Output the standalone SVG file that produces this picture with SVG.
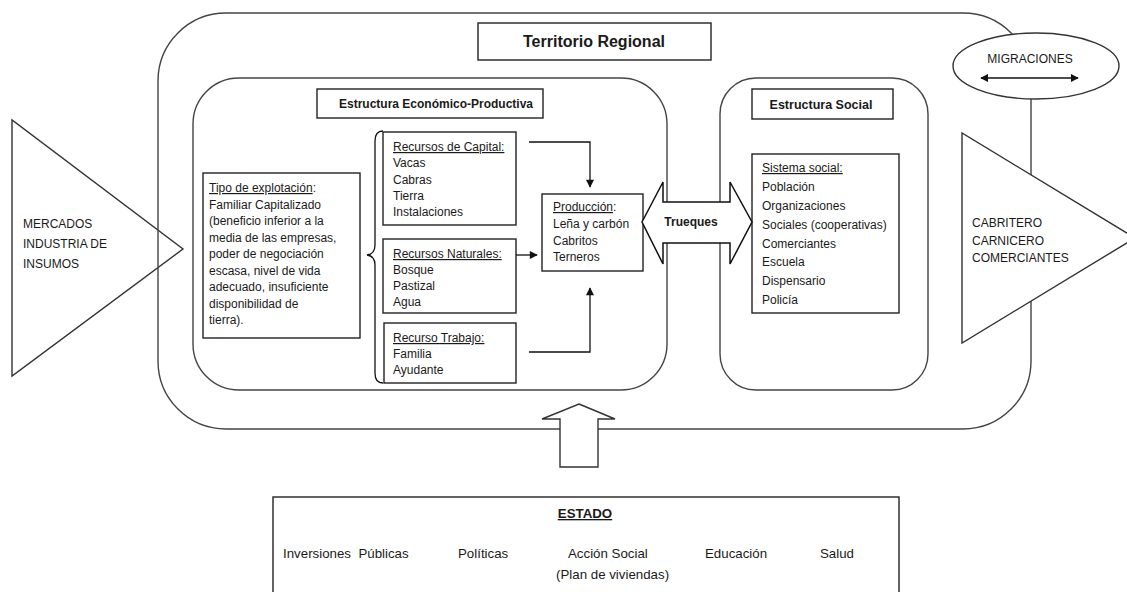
<svg xmlns="http://www.w3.org/2000/svg" width="1127" height="592" viewBox="0 0 1127 592">
<defs>
<style>
.t{font-family:"Liberation Sans",Arial,sans-serif;font-size:12px;fill:#1a1a1a}
.b{font-weight:bold}
.u{text-decoration:underline}
.e{font-size:13.3px}
.box{fill:#fff;stroke:#222;stroke-width:1.4}
.round{fill:none;stroke:#444;stroke-width:1.4}
.ln{fill:none;stroke:#111;stroke-width:1.3}
</style>
<marker id="ah" viewBox="0 0 10 10" refX="9" refY="5" markerWidth="8" markerHeight="8" markerUnits="userSpaceOnUse" orient="auto-start-reverse">
<path d="M0,0 L10,5 L0,10 z" fill="#111"/>
</marker>
<marker id="ah2" viewBox="0 0 10 10" refX="9" refY="5" markerWidth="9" markerHeight="8" markerUnits="userSpaceOnUse" orient="auto-start-reverse">
<path d="M0,0 L10,5 L0,10 z" fill="#111"/>
</marker>
</defs>
<rect width="1127" height="592" fill="#fff"/>

<g id="mercados">
<polygon class="round" points="12,120 12,376 183,249" style="stroke:#333"/>
<text class="t" x="23" y="228">MERCADOS</text>
<text class="t" x="23" y="248">INDUSTRIA DE</text>
<text class="t" x="23" y="268">INSUMOS</text>
</g>

<g id="territorio-regional">
<rect class="round" x="158" y="13" width="873" height="416" rx="68" ry="68"/>
<rect class="box" x="478" y="23" width="233" height="37"/>
<text class="t b" x="594" y="47" text-anchor="middle" style="font-size:16px">Territorio Regional</text>
</g>

<g id="migraciones">
<ellipse cx="1036" cy="66" rx="83" ry="33" fill="#fff" stroke="#333" stroke-width="1.4"/>
<text class="t" x="1030" y="63" text-anchor="middle">MIGRACIONES</text>
<line class="ln" x1="981" y1="78" x2="1078" y2="78" marker-start="url(#ah)" marker-end="url(#ah)"/>
</g>

<g id="cabritero">
<polygon points="962,133 962,343 1135,238" fill="#fff" stroke="#333" stroke-width="1.4"/>
<text class="t" x="972" y="227">CABRITERO</text>
<text class="t" x="972" y="245">CARNICERO</text>
<text class="t" x="972" y="262">COMERCIANTES</text>
</g>

<g id="estructura-economico-productiva">
<rect class="round" x="193" y="78" width="474" height="312" rx="46" ry="46"/>
<rect class="box" x="317" y="89" width="226" height="29"/>
<text class="t b" x="436" y="108" text-anchor="middle">Estructura Económico-Productiva</text>
</g>

<g id="tipo-explotacion">
<rect class="box" x="203" y="173" width="157" height="165"/>
<text class="t" x="209" y="192"><tspan class="u">Tipo de explotación</tspan>:</text>
<text class="t" x="209" y="208.5">Familiar Capitalizado</text>
<text class="t" x="209" y="225">(beneficio inferior a la</text>
<text class="t" x="209" y="241.5">media de las empresas,</text>
<text class="t" x="209" y="258">poder de negociación</text>
<text class="t" x="209" y="274.5">escasa, nivel de vida</text>
<text class="t" x="209" y="291">adecuado, insuficiente</text>
<text class="t" x="209" y="307.5">disponibilidad de</text>
<text class="t" x="209" y="324">tierra).</text>
</g>

<g id="llave">
<path class="ln" d="M383,131 Q375,131 375,141 L375,245 Q375,254 367,255 Q375,256 375,265 L375,373 Q375,383 383,383"/>
</g>

<g id="recursos-capital">
<rect class="box" x="383" y="132" width="133" height="93"/>
<text class="t u" x="393" y="151">Recursos de Capital:</text>
<text class="t" x="393" y="167">Vacas</text>
<text class="t" x="393" y="183.5">Cabras</text>
<text class="t" x="393" y="200">Tierra</text>
<text class="t" x="393" y="216">Instalaciones</text>
</g>

<g id="recursos-naturales">
<rect class="box" x="383" y="239" width="133" height="74"/>
<text class="t u" x="393" y="258">Recursos Naturales:</text>
<text class="t" x="393" y="274">Bosque</text>
<text class="t" x="393" y="290">Pastizal</text>
<text class="t" x="393" y="306">Agua</text>
</g>

<g id="recurso-trabajo">
<rect class="box" x="384" y="323" width="132" height="60"/>
<text class="t u" x="393" y="342">Recurso Trabajo:</text>
<text class="t" x="393" y="358">Familia</text>
<text class="t" x="393" y="374">Ayudante</text>
</g>

<g id="produccion">
<rect class="box" x="542" y="194" width="101" height="77"/>
<text class="t" x="553" y="211"><tspan class="u">Producción</tspan>:</text>
<text class="t" x="553" y="228">Leña y carbón</text>
<text class="t" x="553" y="245">Cabritos</text>
<text class="t" x="553" y="261">Terneros</text>
</g>

<g id="estructura-social">
<rect class="round" x="720" y="78" width="208" height="312" rx="36" ry="36"/>
<rect class="box" x="752" y="89" width="141" height="30"/>
<text class="t b" x="821" y="109" text-anchor="middle" style="font-size:12.5px">Estructura Social</text>
</g>

<g id="sistema-social">
<rect class="box" x="752" y="154" width="147" height="159"/>
<text class="t u" x="762" y="172">Sistema social:</text>
<text class="t" x="762" y="191">Población</text>
<text class="t" x="762" y="210">Organizaciones</text>
<text class="t" x="762" y="229">Sociales (cooperativas)</text>
<text class="t" x="762" y="248">Comerciantes</text>
<text class="t" x="762" y="266">Escuela</text>
<text class="t" x="762" y="285">Dispensario</text>
<text class="t" x="762" y="304">Policía</text>
</g>

<g id="trueques">
<polygon points="642,222 663,182 663,202 730,202 730,182 752,222 730,264 730,243 663,243 663,264" fill="#fff" stroke="#111" stroke-width="1.5"/>
<text class="t b" x="691" y="226" text-anchor="middle">Trueques</text>
</g>

<g id="connectors">
<polyline class="ln" points="529,142 590,142 590,187" marker-end="url(#ah2)"/>
<line class="ln" x1="516" y1="255" x2="537" y2="255" marker-end="url(#ah2)"/>
<polyline class="ln" points="529,352 590,352 590,288" marker-end="url(#ah2)"/>
</g>

<g id="flecha-estado">
<polygon points="579,404 615,419 598,419 598,467 560,467 560,419 542,419" fill="#fff" stroke="#333" stroke-width="1.4"/>
</g>

<g id="estado">
<rect class="box" x="273" y="497" width="626" height="110"/>
<text class="t b u e" x="585" y="518" text-anchor="middle">ESTADO</text>
<text class="t e" x="283" y="558" xml:space="preserve">Inversiones  Públicas</text>
<text class="t e" x="458" y="558">Políticas</text>
<text class="t e" x="568" y="558">Acción Social</text>
<text class="t e" x="556" y="579">(Plan de viviendas)</text>
<text class="t e" x="705" y="558">Educación</text>
<text class="t e" x="820" y="558">Salud</text>
</g>
</svg>
